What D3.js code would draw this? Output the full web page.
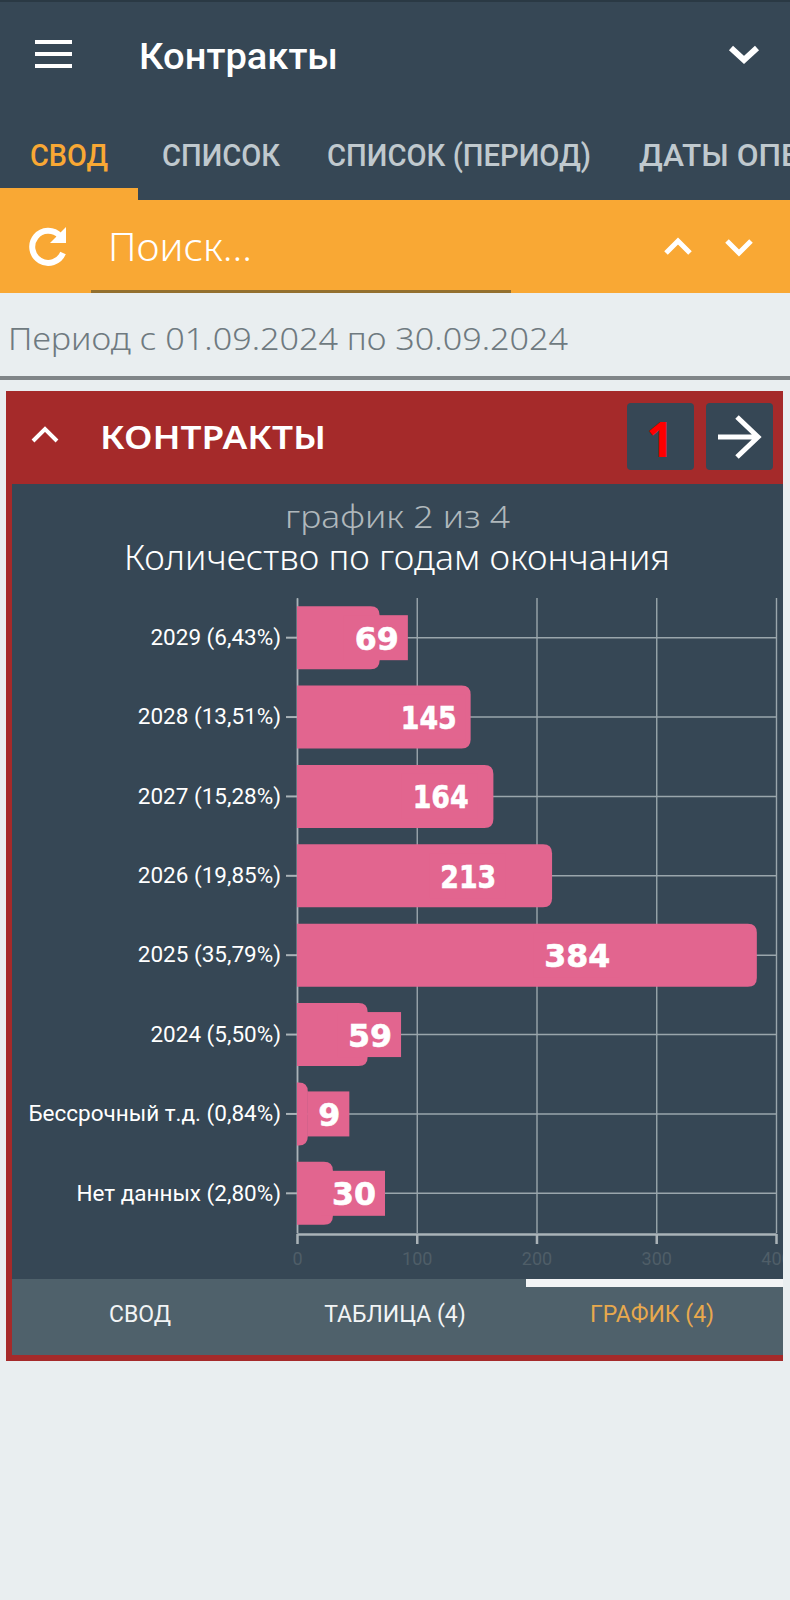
<!DOCTYPE html>
<html>
<head>
<meta charset="utf-8">
<script src="https://d3js.org/d3.v7.min.js"></script>
<style>
	html, body { margin: 0; padding: 0; background: #e9eef0; }
	svg { display: block; }
	text { font-family: Roboto, sans-serif; }
	.wide { font-family: "Noto Sans", sans-serif; }
	.axis-y text { font-size: 22.5px; fill: #fff; }
	.axis-x text { font-size: 18px; fill: #4f5e68; }
	.grid line { stroke: #9aa6ac; stroke-width: 1.4; }
	.grid path { display: none; }
</style>
</head>
<body>
<script>
// DATA - categories and values of the chart
var categories = ["2029", "2028", "2027", "2026", "2025", "2024", "Бессрочный т.д.", "Нет данных"];
var counts = [69, 145, 164, 213, 384, 59, 9, 30];
var shares = ["6,43", "13,51", "15,28", "19,85", "35,79", "5,50", "0,84", "2,80"];
var xTicks = [0, 100, 200, 300, 400];

// DATA - texts of the screen around the chart
var topTabs = ["СВОД", "СПИСОК", "СПИСОК (ПЕРИОД)", "ДАТЫ ОПЕ"];
var bottomTabs = ["СВОД", "ТАБЛИЦА (4)", "ГРАФИК (4)"];

var labels = categories.map(function(c, i) { return c + " (" + shares[i] + "%)"; });

var svg = d3.select("body").append("svg").attr("width", 790).attr("height", 1600);

function rect(x, y, w, h, color, r) {
	return svg.append("rect").attr("x", x).attr("y", y).attr("width", w).attr("height", h)
		.attr("rx", r || 0).style("fill", color);
}

function label(x, y, str, size, color, opt) {
	opt = opt || {};
	var t = svg.append("text").attr("x", x).attr("y", y).text(str)
		.attr("class", opt.cls || null)
		.style("font-size", size + "px").style("fill", color)
		.style("font-weight", opt.weight || 400)
		.style("text-anchor", opt.anchor || "start");
	if (opt.len) t.attr("textLength", opt.len).attr("lengthAdjust", "spacingAndGlyphs");
	return t;
}

function stroke(d, color, width) {
	return svg.append("path").attr("d", d).style("fill", "none").style("stroke", color)
		.style("stroke-width", width);
}

var dark = "#364755", orange = "#f9a834", red = "#a52a2a", pink = "#e2658f";

// top bar
rect(0, 0, 790, 200, dark);
rect(0, 0, 790, 2, "#2a3944");
[42, 54, 66].forEach(function(y) { rect(35, y - 2, 37, 4, "#fff"); });
label(139, 69, "Контракты", 37, "#fff", { weight: 500, len: 199 });
stroke("M731 48L744 60L757 48", "#fff", 6);

// top tabs
var tabX = [30, 162, 327, 639], tabLen = [78, 118, 264, 160];
topTabs.forEach(function(t, i) {
	label(tabX[i], 166, t, 31, i == 0 ? orange : "#c0c9ce", { weight: 500, len: tabLen[i] });
});

// search band
rect(0, 188, 138, 12, orange);
rect(0, 200, 790, 93, orange);
rect(91, 290, 420, 3, "#93702f");
stroke("M60 236A16 16 0 1 0 63 253", "#fff", 6);
svg.append("path").attr("d", "M50 243L66 243L66 227Z").style("fill", "#fff");
label(108, 261, "Поиск...", 38, "#fff", { cls: "wide", weight: 300, len: 144 });
stroke("M666 253L678 241L690 253", "#fff", 5);
stroke("M727 241L739 253L751 241", "#fff", 5);

// period line
label(8, 350, "Период с 01.09.2024 по 30.09.2024", 31, "#6f7a80", { cls: "wide", weight: 300, len: 560 });
rect(0, 376, 790, 4, "#808588");

// panel
rect(6, 391, 777, 970, red);
rect(12, 484, 771, 796, dark);
rect(12, 1279, 771, 76, "#4f616b");
rect(526, 1279, 257, 8, "#f2f4f5");
stroke("M33 441L45 429L57 441", "#fff", 4);
label(100, 449, "КОНТРАКТЫ", 33, "#fff", { cls: "wide", weight: 600, len: 226 });
rect(627, 403, 67, 67, dark, 4);
rect(706, 403, 67, 67, dark, 4);
label(660, 457, "1", 48, "#f00", { cls: "wide", weight: 700, anchor: "middle" });
stroke("M718 437L758 437M737 417L758 437L737 457", "#fff", 5);

label(397.5, 528, "график 2 из 4", 31, "#b0b8bc", { cls: "wide", weight: 300, anchor: "middle", len: 225 });
label(397, 570, "Количество по годам окончания", 34, "#fff", { cls: "wide", weight: 300, anchor: "middle", len: 546 });

// bottom tabs
var bottomX = [140, 395, 652];
bottomTabs.forEach(function(t, i) {
	label(bottomX[i], 1322, t, 23, i == 2 ? "#e8a94d" : "#f2f4f5", { anchor: "middle" });
});

// chart
var x = d3.scaleLinear().domain([0, 400]).range([297, 776]);
var y = d3.scaleBand().domain(labels).range([598, 1233]).paddingInner(0.207).paddingOuter(0.1035);
// where the number sits along the bar, in chart units
var labelPos = d3.scaleLinear().domain([9, 30, 59, 145, 164, 213, 384]).range([27, 47.6, 61, 110, 120, 143, 234]);

var clip = svg.append("clipPath").attr("id", "chart-clip");
clip.append("rect").attr("x", 12).attr("y", 484).attr("width", 771).attr("height", 796);
var chart = svg.append("g").attr("clip-path", "url(#chart-clip)");

chart.append("g").attr("class", "grid")
	.attr("transform", "translate(0,1233)")
	.call(d3.axisBottom(x).tickValues(xTicks).tickSize(-635).tickFormat(""));
chart.append("g").attr("class", "grid")
	.attr("transform", "translate(297,0)")
	.call(d3.axisLeft(y).tickSize(-479).tickFormat(""));

var axisX = chart.append("g").attr("class", "axis-x").attr("transform", "translate(0,1234)")
	.call(d3.axisBottom(x).tickValues(xTicks).tickSize(10).tickSizeOuter(0).tickPadding(8));
axisX.selectAll("line, path").style("stroke", "#aab3b8").style("stroke-width", 2.5);

var axisY = chart.append("g").attr("class", "axis-y").attr("transform", "translate(297,0)")
	.call(d3.axisLeft(y).tickSize(11).tickSizeOuter(0).tickPadding(5));
axisY.selectAll("line").style("stroke", "#aab3b8").style("stroke-width", 2);
axisY.select("path").style("stroke", "#aab3b8").style("stroke-width", 1.6);

// bars, only the right end is rounded
function barPath(v, i) {
	var x0 = x(0), x1 = x(v), y0 = y(labels[i]), h = y.bandwidth();
	var r = Math.min(9, x1 - x0);
	return "M" + x0 + " " + y0 + "H" + (x1 - r) + "Q" + x1 + " " + y0 + " " + x1 + " " + (y0 + r)
		+ "V" + (y0 + h - r) + "Q" + x1 + " " + (y0 + h) + " " + (x1 - r) + " " + (y0 + h) + "H" + x0 + "Z";
}
chart.selectAll(".bar").data(counts).enter().append("path")
	.attr("class", "bar")
	.attr("d", barPath)
	.style("fill", pink);

// the reference font has a narrow 1, so squeeze the numbers to that width
function numberWidth(v) {
	return String(v).split("").reduce(function(w, c) { return w + (c == "1" ? 12 : 22); }, 0);
}

// number with its box
var valueGroups = chart.selectAll(".value").data(counts).enter().append("g").attr("class", "value");
valueGroups.append("rect")
	.attr("x", function(d) { return x(labelPos(d)) - numberWidth(d) / 2 - 11; })
	.attr("width", function(d) { return numberWidth(d) + 20; })
	.attr("y", function(d, i) { return y(labels[i]) + y.bandwidth() / 2 - 22.5; })
	.attr("height", 45)
	.style("fill", pink);
valueGroups.append("text")
	.attr("x", function(d) { return x(labelPos(d)); })
	.attr("y", function(d, i) { return y(labels[i]) + y.bandwidth() / 2 + 12; })
	.attr("textLength", numberWidth)
	.attr("lengthAdjust", "spacingAndGlyphs")
	.style("text-anchor", "middle")
	.style("font-family", "'DejaVu Sans', sans-serif")
	.style("font-weight", 700)
	.style("font-size", "32px")
	.style("fill", "#fff")
	.style("stroke", "#fff")
	.style("stroke-width", 0.6)
	.text(function(d) { return d; });
</script>
</body>
</html>
